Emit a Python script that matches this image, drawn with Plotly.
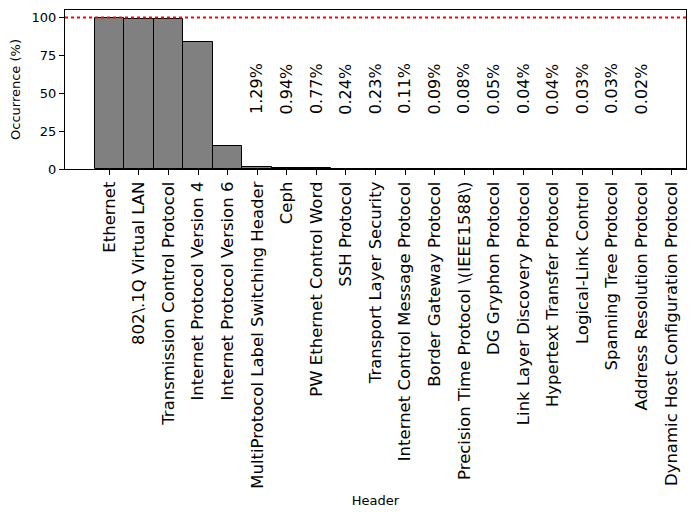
import plotly.graph_objects as go

headers = [
    "Ethernet", "802\\.1Q Virtual LAN", "Transmission Control Protocol",
    "Internet Protocol Version 4", "Internet Protocol Version 6",
    "MultiProtocol Label Switching Header", "Ceph", "PW Ethernet Control Word",
    "SSH Protocol", "Transport Layer Security", "Internet Control Message Protocol",
    "Border Gateway Protocol", "Precision Time Protocol \\(IEEE1588\\)",
    "DG Gryphon Protocol", "Link Layer Discovery Protocol", "Hypertext Transfer Protocol",
    "Logical-Link Control", "Spanning Tree Protocol", "Address Resolution Protocol",
    "Dynamic Host Configuration Protocol",
]
occurrence = [100.0, 99.2, 99.1, 84.2, 15.3, 1.29, 0.94, 0.77, 0.24, 0.23,
              0.11, 0.09, 0.08, 0.05, 0.04, 0.04, 0.03, 0.03, 0.02, 0.01]
value_labels = ["", "", "", "", "", "1.29%", "0.94%", "0.77%", "0.24%", "0.23%",
                "0.11%", "0.09%", "0.08%", "0.05%", "0.04%", "0.04%", "0.03%",
                "0.03%", "0.02%", ""]
reference_line = 100
label_y = 53

xs = list(range(len(headers)))

fig = go.Figure()
fig.add_trace(go.Bar(
    x=xs, y=occurrence, width=1,
    marker=dict(color="#808080", line=dict(color="black", width=1)),
    showlegend=False,
))

fig.add_shape(type="line", xref="paper", yref="y", x0=0, x1=1,
              y0=reference_line, y1=reference_line,
              line=dict(color="red", width=2, dash="dot"))

for x, t in zip(xs, value_labels):
    if t:
        fig.add_annotation(x=x, y=label_y, text=t, textangle=-90, showarrow=False,
                           font=dict(size=16, color="black", family="DejaVu Sans"),
                           xanchor="center", yanchor="middle")

fig.update_layout(
    width=687, height=509,
    margin=dict(l=57, r=9, t=2, b=348),
    plot_bgcolor="white", paper_bgcolor="white",
    font=dict(family="DejaVu Sans", color="black"),
    bargap=0,
)
fig.update_xaxes(
    range=[-1.5, 19.5], tickmode="array", tickvals=xs, ticktext=headers,
    tickangle=-90, tickfont=dict(size=16.5), ticks="outside", ticklen=5,
    tickcolor="black", showline=True, linecolor="black", linewidth=1, mirror=True,
    showgrid=False, zeroline=False, automargin=False,
    title=dict(text="Header", font=dict(size=13), standoff=8),
)
fig.update_yaxes(
    range=[0, 105], tickvals=[0, 25, 50, 75, 100], tickfont=dict(size=13),
    ticks="outside", ticklen=5, tickcolor="black", showline=True, linecolor="black",
    linewidth=1, mirror=True, showgrid=False, zeroline=False, automargin=False,
    title=dict(text="Occurrence (%)", font=dict(size=13), standoff=8),
)

fig.write_html("out.html")
